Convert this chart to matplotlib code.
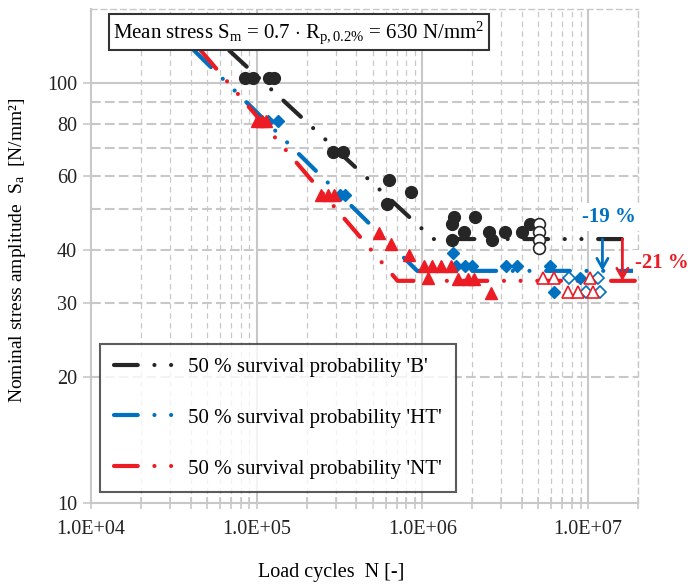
import math
import matplotlib
matplotlib.use("Agg")
import matplotlib.pyplot as plt
from matplotlib.lines import Line2D
from matplotlib.ticker import FixedLocator, FuncFormatter, NullFormatter

plt.rcParams['font.family'] = ['Liberation Serif', 'DejaVu Serif']
plt.rcParams['mathtext.fontset'] = 'custom'
plt.rcParams['mathtext.rm'] = 'Liberation Serif'
plt.rcParams['mathtext.it'] = 'Liberation Serif:italic'
plt.rcParams['mathtext.bf'] = 'Liberation Serif:bold'
plt.rcParams['lines.scale_dashes'] = False

# 50 % survival curves (start, knee, end)
b_curve_n = [4.42e4, 1.16e6, 2.0e7]
b_curve_s = [140, 42.5, 42.5]
ht_curve_n = [2.79e4, 9.3e5, 2.0e7]
ht_curve_s = [140, 35.7, 35.7]
nt_curve_n = [3.26e4, 7.08e5, 2.0e7]
nt_curve_s = [140, 33.8, 33.8]

# test results 'B' (filled = failure, open = run-out)
b_n = [8.45e4, 9.46e4, 1.18e5, 1.27e5, 2.89e5, 3.32e5, 6.25e5, 8.5e5, 6.08e5,
       1.56e6, 2.07e6, 1.51e6, 1.79e6, 2.54e6, 3.15e6, 3.98e6, 1.5e6, 2.62e6, 4.47e6]
b_s = [103, 103, 103, 103, 68.5, 68.5, 58.7, 55.1, 51.5,
       48, 48, 46.1, 44.2, 44.2, 44.2, 44.2, 42.3, 42.3, 46.1]
b_run_n = [5.05e6, 5.05e6, 5.05e6, 5.05e6]
b_run_s = [46.1, 44.2, 42.3, 40.4]

# test results 'HT'
ht_n = [1.17e5, 1.34e5, 3.16e5, 3.41e5, 1.53e6, 1.59e6, 1.80e6, 1.98e6, 3.18e6,
        3.72e6, 5.91e6, 6.22e6, 8.91e6]
ht_s = [81.2, 81.2, 54.1, 54.1, 39.3, 36.6, 36.6, 36.6, 36.6,
        36.6, 36.7, 31.8, 34.3]
ht_run_n = [7.67e6, 1.14e7, 9.72e6, 1.18e7]
ht_run_s = [34.3, 34.3, 31.8, 31.8]

# test results 'NT'
nt_n = [1.0e5, 1.07e5, 1.13e5, 2.44e5, 2.68e5, 2.93e5, 5.47e5, 6.49e5, 8.3e5,
        1.02e6, 1.15e6, 1.29e6, 1.48e6, 1.08e6, 1.64e6, 1.89e6, 2.06e6, 2.59e6]
nt_s = [81.2, 81.2, 81.2, 54.1, 54.1, 54.1, 43.9, 41.4, 38.9,
        36.6, 36.6, 36.6, 36.6, 34.3, 34.1, 34.1, 34.1, 31.7]
nt_run_n = [5.34e6, 6.22e6, 1.02e7, 7.53e6, 8.67e6, 1.07e7]
nt_run_s = [34.3, 34.3, 34.3, 31.8, 31.8, 31.8]

labels = ["50 % survival probability 'B'", "50 % survival probability 'HT'",
          "50 % survival probability 'NT'"]

c_b = '#262626'
c_ht = '#0070C0'
c_nt = '#EC1C24'
grid_c = '#C8C8C8'

fig = plt.figure(figsize=(6.88, 5.86), dpi=100)
ax = fig.add_axes([91 / 688, 83 / 586, 547 / 688, 494 / 586])
ax.set_xscale('log')
ax.set_yscale('log')
ax.set_xlim(1e4, 2e7)
ax.set_ylim(10, 150)

# grid
for dec in [1e4, 1e5, 1e6, 1e7]:
    for k in range(2, 10):
        if k * dec <= 2e7:
            ax.axvline(k * dec, color=grid_c, lw=0.9, linestyle=(0, (4, 3)), zorder=0)
    if dec > 1e4:
        ax.axvline(dec, color=grid_c, lw=1.5, zorder=0)
for v in [20, 30, 40, 50, 60, 70, 80, 90]:
    ax.axhline(v, color=grid_c, lw=1.5, linestyle=(0, (7, 3)), zorder=0)
ax.axhline(100, color=grid_c, lw=1.5, zorder=0)

for sp in ['left', 'bottom']:
    ax.spines[sp].set_color(grid_c)
    ax.spines[sp].set_linewidth(1.5)
for sp in ['top', 'right']:
    ax.spines[sp].set_color(grid_c)
    ax.spines[sp].set_linewidth(1.0)
    ax.spines[sp].set_linestyle((0, (4, 3)))

ax.xaxis.set_major_locator(FixedLocator([1e4, 1e5, 1e6, 1e7]))
ax.xaxis.set_minor_locator(FixedLocator([k * d for d in [1e4, 1e5, 1e6, 1e7]
                                         for k in range(2, 10) if k * d <= 2e7]))
ax.xaxis.set_major_formatter(FuncFormatter(lambda v, p: '1.0E+%02d' % round(math.log10(v))))
ax.xaxis.set_minor_formatter(NullFormatter())
ax.yaxis.set_major_locator(FixedLocator([10, 20, 30, 40, 60, 80, 100]))
ax.yaxis.set_minor_locator(FixedLocator([]))
ax.yaxis.set_major_formatter(FuncFormatter(lambda v, p: '%d' % v))
ax.yaxis.set_minor_formatter(NullFormatter())
ax.tick_params(axis='x', which='both', direction='inout', length=8, width=1.2,
               color=grid_c, labelsize=14.5, pad=8)
ax.tick_params(axis='y', which='both', direction='out', length=6, width=1.2,
               color=grid_c, labelsize=14.5, pad=4)
for t in ax.get_xticklabels() + ax.get_yticklabels():
    t.set_color('#222222')

seq = (17.1, 12.0, 0.01, 12.0, 0.01, 12.0)
curves = [(b_curve_n, b_curve_s, c_b, 22.4),
          (ht_curve_n, ht_curve_s, c_ht, 23.6),
          (nt_curve_n, nt_curve_s, c_nt, 25.7)]
for n, s, c, off in curves:
    ax.plot(n, s, color=c, lw=3, linestyle=(off, seq), dash_capstyle='round', zorder=3)

ax.plot(b_n, b_s, 'o', ms=8.5, color=c_b, mec=c_b, zorder=4)
ax.plot(b_run_n, b_run_s, 'o', ms=8.5, mfc='white', mec=c_b, mew=1.2, zorder=4)
ax.plot(ht_n, ht_s, 'D', ms=6.5, color=c_ht, mec=c_ht, zorder=4)
ax.plot(ht_run_n, ht_run_s, 'D', ms=6, mfc='white', mec=c_ht, mew=1.2, zorder=4)
ax.plot(nt_n, nt_s, '^', ms=9, color=c_nt, mec=c_nt, zorder=5)
ax.plot(nt_run_n, nt_run_s, '^', ms=8, mfc='white', mec=c_nt, mew=1.2, zorder=5)

# reduction arrows
ax.annotate('', xy=(1.22e7, ht_curve_s[-1]), xytext=(1.22e7, b_curve_s[-1]),
            arrowprops=dict(arrowstyle='->,head_length=0.7,head_width=0.4',
                            color=c_ht, lw=2, shrinkA=0, shrinkB=0), zorder=6)
ax.annotate('', xy=(1.61e7, nt_curve_s[-1]), xytext=(1.61e7, b_curve_s[-1]),
            arrowprops=dict(arrowstyle='->,head_length=0.7,head_width=0.4',
                            color=c_nt, lw=2, shrinkA=0, shrinkB=0), zorder=6)
ax.text(1.34e7, 48, '-19 %', color=c_ht, fontsize=15, fontweight='bold',
        ha='center', va='center', zorder=7,
        bbox=dict(facecolor='white', edgecolor='none', pad=3))
ax.text(2.8e7, 37.3, '-21 %', color=c_nt, fontsize=15, fontweight='bold',
        ha='center', va='center', zorder=7, clip_on=False,
        bbox=dict(facecolor='white', edgecolor='none', pad=2))

ax.text(0.38, 0.953,
        r'Mean stress S$_\mathrm{m}$ = 0.7 $\cdot$ R$_\mathrm{p,0.2\%}$ = 630 N/mm$^2$',
        transform=ax.transAxes, ha='center', va='center', fontsize=15, zorder=8,
        bbox=dict(facecolor='white', edgecolor='#333333', lw=1.5,
                  boxstyle='square,pad=0.22'))

handles = [Line2D([], [], color=c, lw=3, linestyle=(0, seq), dash_capstyle='round')
           for c in [c_b, c_ht, c_nt]]
leg = ax.legend(handles, labels, loc='lower left', bbox_to_anchor=(0.0165, 0.022),
                fontsize=15, frameon=True, fancybox=False, handlelength=2.84,
                handletextpad=0.75, labelspacing=1.5, borderpad=0.65,
                borderaxespad=0)
leg.get_frame().set_edgecolor('#333333')
leg.get_frame().set_linewidth(1.5)
leg.set_zorder(8)

fig.text(18 / 688, 1 - 250 / 586, r'Nominal stress amplitude  S$_\mathrm{a}$  [N/mm²]',
         rotation=90, ha='center', va='center', fontsize=14)
fig.text(331 / 688, 1 - 572 / 586, 'Load cycles  N [-]', ha='center', va='center',
         fontsize=14.5)

fig.savefig('out.png', dpi=100)
